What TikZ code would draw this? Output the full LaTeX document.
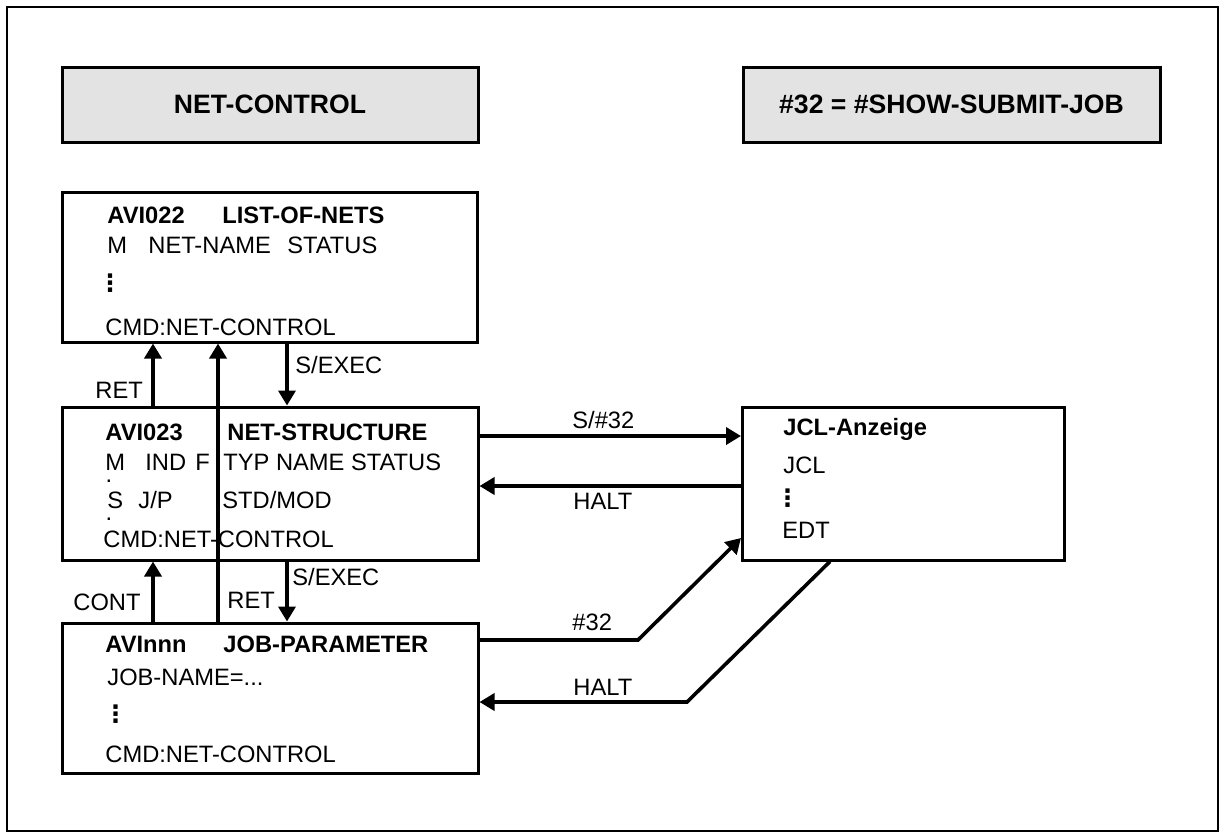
\documentclass[tikz,border=0pt]{standalone}
\usepackage{fontspec}
\setmainfont{Liberation Sans}
\newfontfamily\symfont{DejaVu Sans}
\definecolor{panelGray}{RGB}{227, 227, 227}
\usetikzlibrary{arrows.meta, positioning}

\begin{document}
\begin{tikzpicture}[x=0.5pt, y=-0.5pt,
  frame/.style={draw, line width=0.75pt},
  titlebox/.style={rectangle, draw, line width=1.5pt, fill=panelGray,
                   minimum width=208pt, minimum height=37.5pt,
                   font=\fontsize{13.3}{16}\selectfont\bfseries},
  screen/.style={rectangle, draw, line width=1.5pt, fill=white,
                 minimum width=208pt, minimum height=75pt},
  txt/.style={anchor=base west, inner sep=0pt, font=\fontsize{11.85}{14}\selectfont},
  head/.style={txt, font=\fontsize{11.85}{14}\selectfont\bfseries},
  vdot/.style={anchor=center, inner sep=0pt, font=\symfont\fontsize{12}{14}\selectfont\bfseries},
  arrow/.style={-{Triangle[length=7.5pt, width=8.5pt]}, line width=1.8pt},
]
  \useasboundingbox (0,0) rectangle (1221,832);
  \draw[frame] (7,7) rectangle (1218,831);

  % titles
  \node[titlebox] (tnet) at (270,104.5) {NET-CONTROL};
  \node[titlebox, minimum width=208.5pt] (tshow) at (951.5,104.5) {\#32 = \#SHOW-SUBMIT-JOB};

  % screens
  \node[screen, minimum width=207.5pt] (list) at (269.5,267) {};
  \node[screen, minimum height=76.5pt] (net) at (270,483.5) {};
  \node[screen] (job) at (270,698) {};
  \node[screen, minimum width=161pt, minimum height=76.5pt] (jcl) at (903.5,483.5) {};

  % AVI022
  \node[head] (listA) at (107,223) {AVI022};
  \node[head] (listB) at (222,223) {LIST-OF-NETS};
  \node[txt] (listM) at (107,253) {M};
  \node[txt] (listN) at (148,253) {NET-NAME};
  \node[txt] (listS) at (287,253) {STATUS};
  \node[vdot] (listD) at (110,283) {⋮};
  \node[txt] (listC) at (105,335) {CMD:NET-CONTROL};

  % AVI023
  \node[head] (netA) at (105,440) {AVI023};
  \node[head] (netB) at (227,440) {NET-STRUCTURE};
  \node[txt] (netM) at (105,470) {M};
  \node[txt] (netI) at (145,470) {IND};
  \node[txt] (netF) at (195,470) {F};
  \node[txt] (netT) at (223,470) {TYP NAME STATUS};
  \node[txt, anchor=base] (netD1) at (109,482) {.};
  \node[txt] (netS) at (107,508) {S};
  \node[txt] (netJ) at (138,508) {J/P};
  \node[txt] (netV) at (222,508) {STD/MOD};
  \node[txt, anchor=base] (netD2) at (109,520) {.};
  \node[txt] (netC) at (103,547) {CMD:NET-CONTROL};

  % AVInnn
  \node[head] (jobA) at (105,652) {AVInnn};
  \node[head] (jobB) at (223,652) {JOB-PARAMETER};
  \node[txt] (jobN) at (107,685) {JOB-NAME=...};
  \node[vdot] (jobD) at (115.5,714) {⋮};
  \node[txt] (jobC) at (105,762) {CMD:NET-CONTROL};

  % JCL
  \node[head] (jclA) at (783,435) {JCL-Anzeige};
  \node[txt] (jclJ) at (783,473) {JCL};
  \node[vdot] (jclD) at (787.5,498.5) {⋮};
  \node[txt] (jclE) at (782,538) {EDT};

  % connectors
  \coordinate (xa) at (153,0);
  \coordinate (xb) at (218,0);
  \coordinate (xc) at (287,0);
  \coordinate (ya) at (0,436);
  \coordinate (yb) at (0,486);
  \coordinate (kneeA) at (638,640);
  \coordinate (tipA) at (0,538);
  \coordinate (kneeB) at (687,702);
  \coordinate (xd) at (830,0);

  \draw[arrow] (net.north -| xa) -- (list.south -| xa);
  \draw[arrow] (job.north -| xb) -- (list.south -| xb);
  \draw[arrow] (list.south -| xc) -- (net.north -| xc);
  \draw[arrow] (job.north -| xa) -- (net.south -| xa);
  \draw[arrow] (net.south -| xc) -- (job.north -| xc);
  \draw[arrow] (net.east |- ya) -- (jcl.west |- ya);
  \draw[arrow] (jcl.west |- yb) -- (net.east |- yb);
  \draw[arrow] (job.east |- kneeA) -- (kneeA) -- (jcl.west |- tipA);
  \draw[arrow] (jcl.south -| xd) -- (kneeB) -- (job.east |- kneeB);

  % labels
  \node[txt] (lRetA) at (95,398) {RET};
  \node[txt] (lExecA) at (295,373) {S/EXEC};
  \node[txt] (lCont) at (73,610) {CONT};
  \node[txt] (lRetB) at (227,608) {RET};
  \node[txt] (lExecB) at (292,585) {S/EXEC};
  \node[txt] (lS32) at (572,428) {S/\#32};
  \node[txt] (lHaltA) at (573,509) {HALT};
  \node[txt] (l32) at (572,630) {\#32};
  \node[txt] (lHaltB) at (573,695) {HALT};
\end{tikzpicture}
\end{document}
